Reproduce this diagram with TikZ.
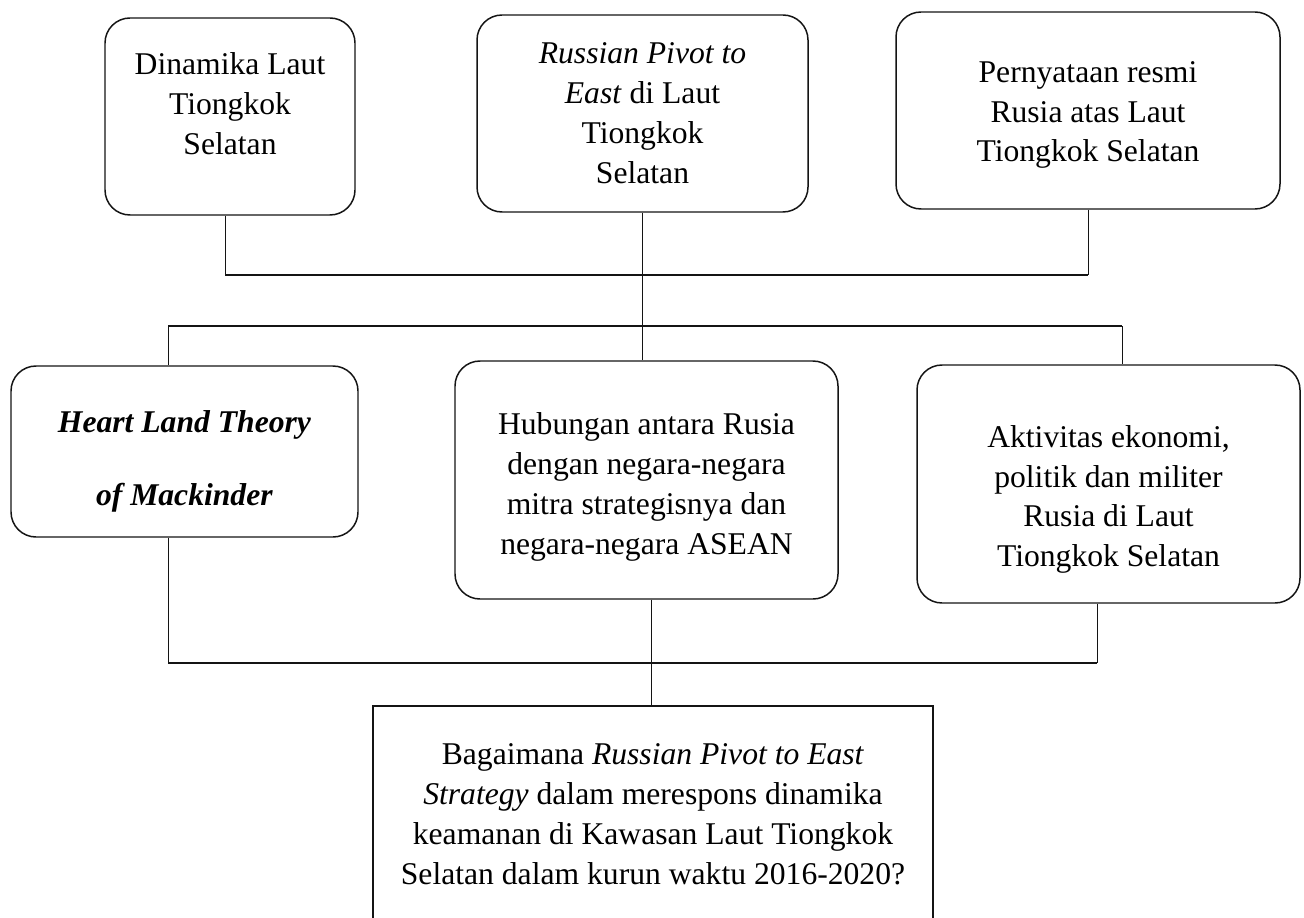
\documentclass[tikz,border=0pt]{standalone}
\usepackage{fontspec}
\setmainfont{Liberation Serif}
\usepackage{tikz}
\usetikzlibrary{positioning,calc}
\definecolor{fwLine}{RGB}{ 20, 20, 20}
% struts to nudge text inside a box
\newcommand{\padtop}[1]{\rule{0pt}{#1}}
\newcommand{\padbot}[1]{\rule[-#1]{0pt}{#1}}

\begin{document}
\begin{tikzpicture}[
  every node/.style={font=\fontsize{18}{22.7}\selectfont,align=center},
  roundbox/.style={draw=fwLine,line width=0.85pt,rounded corners=0.5cm,
                   inner sep=0pt},
  sqbox/.style={draw=fwLine,line width=0.85pt,inner sep=0pt},
  stem/.style={draw=fwLine,line width=0.5pt},
  bar/.style={draw=fwLine,line width=0.8pt}
]
\useasboundingbox (0,0) rectangle (26.08,-18.36);
% Top row
\node[roundbox,minimum width=5.0cm,minimum height=3.94cm]  (dinamika) at (4.6,-2.33)
  {Dinamika Laut\\Tiongkok\\Selatan\padbot{15pt}};
\node[roundbox,minimum width=6.62cm,minimum height=3.94cm] (pivot)    at (12.85,-2.27)
  {\textit{Russian Pivot to}\\\textit{East} di Laut\\Tiongkok\\Selatan};
\node[roundbox,minimum width=7.68cm,minimum height=3.94cm] (resmi)    at (21.76,-2.21)
  {\padtop{17pt}Pernyataan resmi\\Rusia atas Laut\\Tiongkok Selatan};
% Middle row
\node[roundbox,minimum width=6.94cm,minimum height=3.42cm] (heart)    at (3.69,-9.03)
  {\padtop{24pt}\textbf{\textit{Heart Land Theory}}\\[0.66cm]\textbf{\textit{of Mackinder}}};
\node[roundbox,minimum width=7.66cm,minimum height=4.76cm] (hubungan) at (12.93,-9.6)
  {\padtop{20.5pt}Hubungan antara Rusia\\dengan negara-negara\\mitra strategisnya dan\\negara-negara ASEAN};
\node[roundbox,minimum width=7.66cm,minimum height=4.76cm] (aktivitas) at (22.17,-9.68)
  {\padtop{30pt}Aktivitas ekonomi,\\politik dan militer\\Rusia di Laut\\Tiongkok Selatan};
% Question box
\node[sqbox,minimum width=11.2cm,minimum height=4.32cm]    (tanya)    at (13.06,-16.28)
  {Bagaimana \textit{Russian Pivot to East}\\\textit{Strategy} dalam merespons dinamika\\keamanan di Kawasan Laut Tiongkok\\Selatan dalam kurun waktu 2016-2020?};
% Junctions
\coordinate (j1l) at (4.5,-5.5);
\coordinate (j1m) at (12.84,-5.5);
\coordinate (j1r) at (21.76,-5.5);
\coordinate (j2l) at (3.36,-6.52);
\coordinate (j2m) at (12.84,-6.52);
\coordinate (j2r) at (22.44,-6.52);
\coordinate (j3l) at (3.36,-13.26);
\coordinate (j3m) at (13.02,-13.26);
\coordinate (j3r) at (21.94,-13.26);
% Top joins
\draw[stem] (j1l |- dinamika.south) -- (j1l);
\draw[stem] (j1m |- pivot.south) -- (j2m);
\draw[stem] (j1r |- resmi.south) -- (j1r);
\draw[bar] (j1l) -- (j1r);
% Middle joins
\draw[bar] (j2l) -- (j2r);
\draw[stem] (j2l) -- (j2l |- heart.north);
\draw[stem] (j2m) -- (j2m |- hubungan.north);
\draw[stem] (j2r) -- (j2r |- aktivitas.north);
% Bottom joins
\draw[stem] (j3l |- heart.south) -- (j3l);
\draw[stem] (j3m |- hubungan.south) -- (j3m);
\draw[stem] (j3r |- aktivitas.south) -- (j3r);
\draw[bar] (j3l) -- (j3r);
\draw[stem] (j3m) -- (j3m |- tanya.north);
\end{tikzpicture}
\end{document}
